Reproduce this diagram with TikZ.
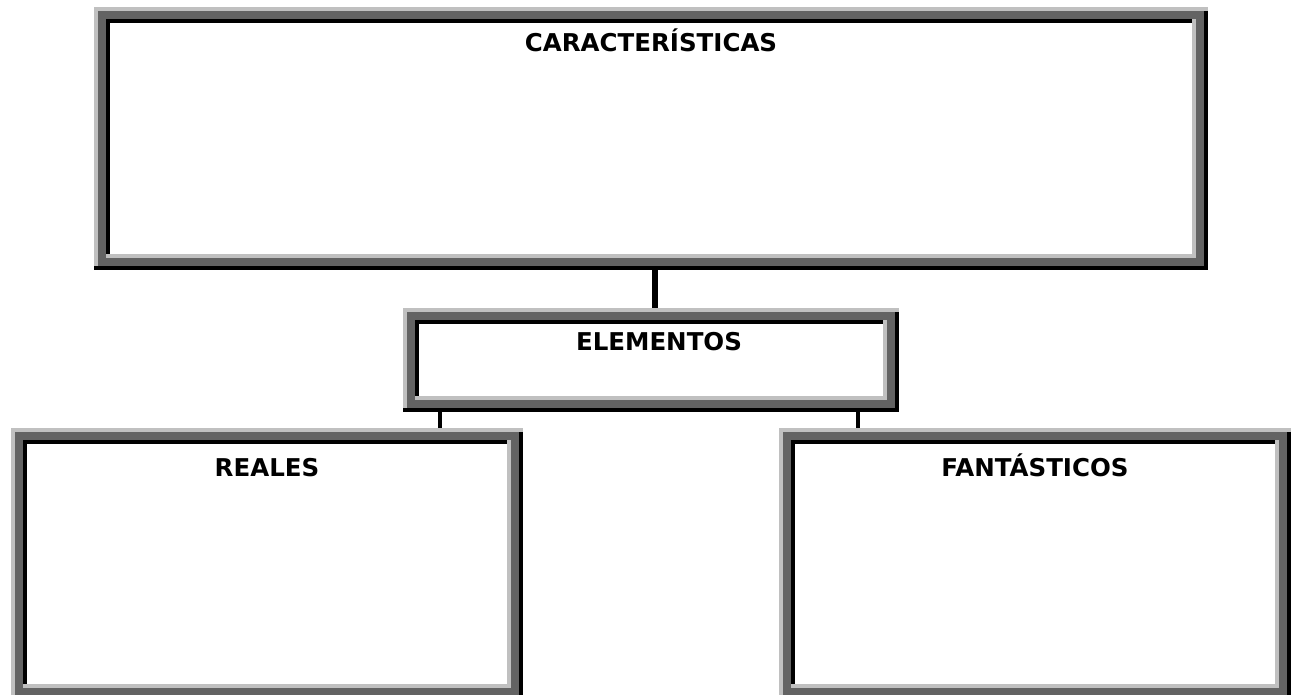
\documentclass[tikz,border=0pt]{standalone}
\usepackage{fontspec}
\setmainfont{DejaVu Sans}
\usepackage{tikz}
\usetikzlibrary{positioning, calc}
\usepackage{xcolor}
\definecolor{framelight}{RGB}{192,192,192}
\definecolor{framedark}{RGB}{99,99,99}

% 3-D frame drawn round a named (empty) node
\newcommand{\shadowframe}[1]{%
    \fill[framelight] (#1.north west) rectangle (#1.south east);
    \fill[black] ([yshift=4pt]#1.south west) rectangle (#1.south east);
    \fill[black] ([shift={(-4pt,-4pt)}]#1.north east) rectangle (#1.south east);
    \fill[framedark] ([shift={(4pt,-4pt)}]#1.north west) rectangle ([shift={(-4pt,4pt)}]#1.south east);
    \fill[framelight] ([shift={(12pt,-12pt)}]#1.north west) rectangle ([shift={(-12pt,12pt)}]#1.south east);
    \fill[black] ([shift={(12pt,-12pt)}]#1.north west) rectangle ([shift={(-16pt,16pt)}]#1.south east);
    \fill[white] ([shift={(16pt,-16pt)}]#1.north west) rectangle ([shift={(-16pt,16pt)}]#1.south east);
}

\begin{document}
\begin{tikzpicture}[x=1pt, y=-1pt]
    % Define styles
    \tikzstyle{framebox}=[rectangle, inner sep=0pt, outer sep=0pt]
    \tikzstyle{title}=[anchor=base, inner sep=0pt, font=\fontsize{24.5}{29}\selectfont\bfseries]
    \tikzstyle{link}=[line width=4pt, black]

    \useasboundingbox (0,0) rectangle (1291,694);
    \clip (0,0) rectangle (1291,694);

    % Boxes
    \node[framebox, minimum width=1114pt, minimum height=263pt] (caract) at (651,138.5) {};
    \node[framebox, minimum width=496pt, minimum height=104pt] (elem) at (651,360) {};
    \node[framebox, minimum width=512pt, minimum height=272pt] (reales) at (267,564) {};
    \node[framebox, minimum width=512pt, minimum height=272pt] (fant) at (1035,564) {};

    \shadowframe{caract}
    \shadowframe{elem}
    \shadowframe{reales}
    \shadowframe{fant}

    % Titles
    \node[title] (caract-title) at ([yshift=-44pt]caract.north) {CARACTERÍSTICAS};
    \node[title] (elem-title) at ([shift={(8pt,-42pt)}]elem.north) {ELEMENTOS};
    \node[title] (reales-title) at ([yshift=-48pt]reales.north) {REALES};
    \node[title] (fant-title) at ([yshift=-48pt]fant.north) {FANTÁSTICOS};

    % Connectors
    \draw[link, line width=6pt] ([xshift=4pt]caract.south) -- ([xshift=4pt]elem.north);
    \draw[link] ([xshift=37pt]elem.south west) -- ([xshift=37pt]elem.south west |- reales.north);
    \draw[link] ([xshift=-41pt]elem.south east) -- ([xshift=-41pt]elem.south east |- fant.north);
\end{tikzpicture}
\end{document}
